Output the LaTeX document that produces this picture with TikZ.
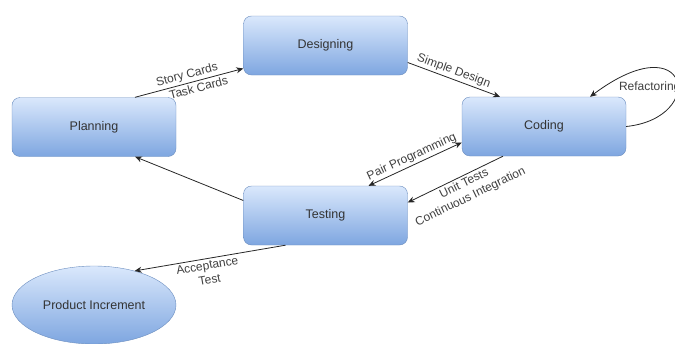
\documentclass[tikz,border=0pt]{standalone}
\usepackage{fontspec}
\setmainfont{Liberation Sans}
\usetikzlibrary{arrows.meta,shapes.geometric}

\definecolor{boxtop}{HTML}{DAE8FC}
\definecolor{boxbot}{HTML}{7EA6E0}
\definecolor{boxline}{HTML}{6C8EBF}

\tikzset{
  phase/.style={draw=boxline,rounded corners=8pt,top color=boxtop,bottom color=boxbot,
    minimum width=164pt,minimum height=59pt,text=black!80},
  result/.style={ellipse,draw=boxline,top color=boxtop,bottom color=boxbot,
    minimum width=164pt,minimum height=78pt,text=black!80},
  flow/.style={-{Stealth[length=7pt,width=6pt]},black!85,thick},
  lbl/.style={font=\fontsize{12}{14.5}\selectfont,text=black!75,inner sep=2pt}
}

\begin{document}
\begin{tikzpicture}[x=1pt,y=-1pt,every node/.style={font=\fontsize{12.5}{14}\selectfont}]
\useasboundingbox (0,0) rectangle (675,343);
% the four phases
\node[phase] (designing) at (325.5,45.5) {Designing};
\node[phase] (planning) at (94,127) {Planning};
\node[phase] (coding) at (544,126.5) {Coding};
\node[phase] (testing) at (325.5,215.5) {Testing};
\node[result] (product) at (94,305) {Product Increment};

% planning -> designing
\draw[flow] ([xshift=41pt]planning.north) -- ([yshift=-23pt]designing.west)
  node[lbl,midway,above,sloped] {Story Cards}
  node[lbl,midway,below,sloped,xshift=8pt] {Task Cards};
% designing -> coding
\draw[flow] ([yshift=-17pt]designing.east) -- ([xshift=-44pt]coding.north)
  node[lbl,midway,above,sloped,xshift=-3pt] {Simple Design};
% refactoring loop
\draw[flow] (coding.east) .. controls (708,118) and (690,22) .. ([xshift=46pt]coding.north)
  node[lbl,pos=0.45,fill=white,inner sep=1pt,anchor=west,xshift=-60pt,yshift=-2pt] {Refactoring};
% coding <-> testing
\draw[flow,{Stealth[length=7pt,width=6pt]}-{Stealth[length=7pt,width=6pt]}]
  ([xshift=43pt]testing.north) -- ([yshift=-16pt]coding.west)
  node[lbl,midway,above,sloped] {Pair Programming};
\draw[flow] ([xshift=-41pt]coding.south) -- ([yshift=13pt]testing.east)
  node[lbl,midway,below,sloped,align=center,xshift=6pt] {Unit Tests\\Continuous Integration};
% testing -> planning
\draw[flow] ([yshift=15pt]testing.west) -- ([xshift=41pt]planning.south);
% testing -> product
\draw[flow] ([xshift=-40pt]testing.south) -- (product.40)
  node[lbl,midway,below,sloped,align=center,xshift=-4pt] {Acceptance\\Test};
\end{tikzpicture}
\end{document}
